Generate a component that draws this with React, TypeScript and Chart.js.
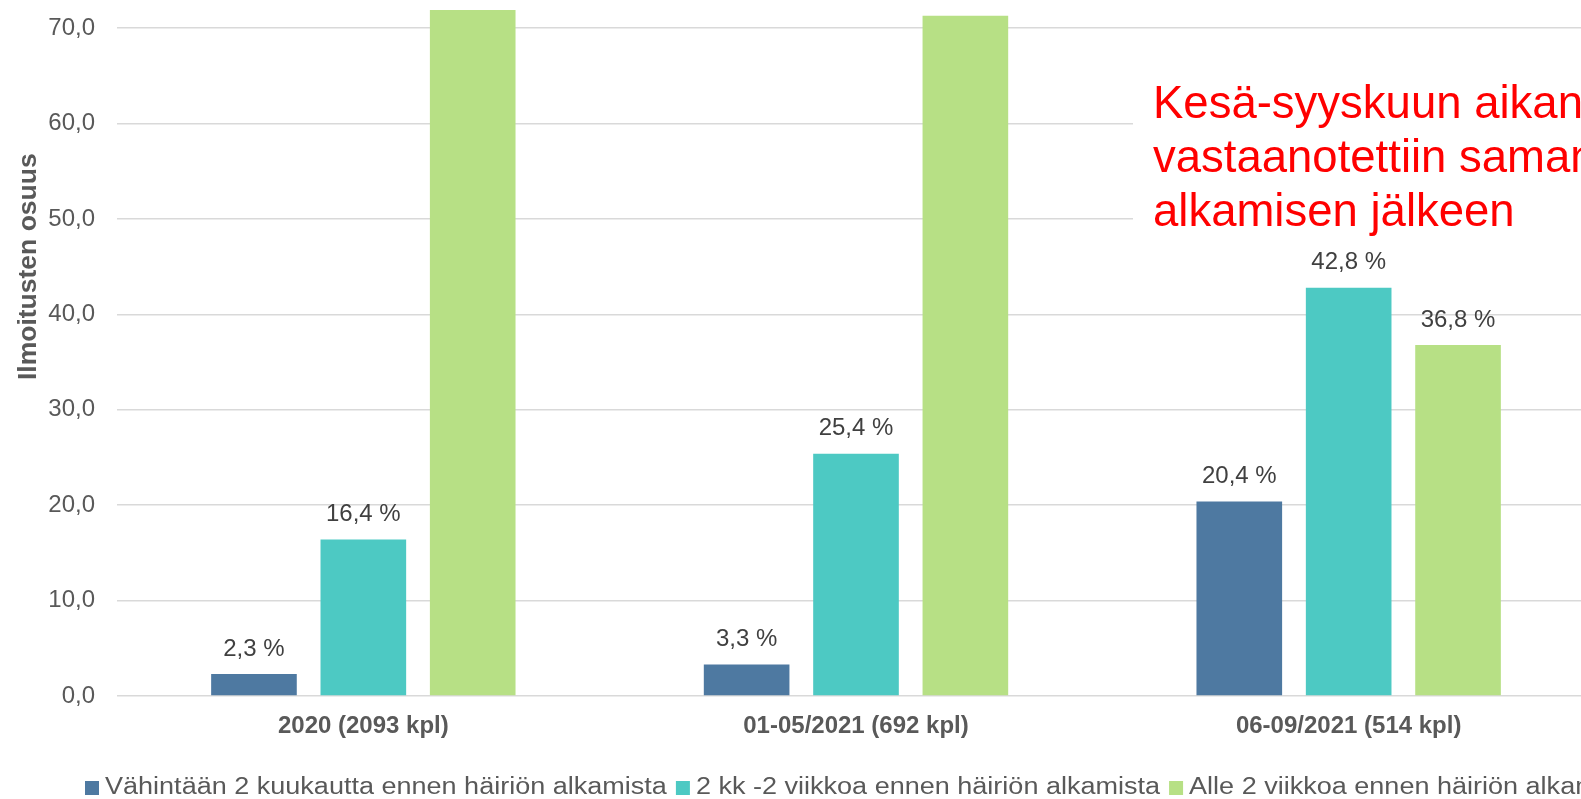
import React, { useEffect, useRef } from "react";
import { Chart, registerables } from "chart.js";

Chart.register(...registerables);

// ---- data ----
const categories = ["2020 (2093 kpl)", "01-05/2021 (692 kpl)", "06-09/2021 (514 kpl)"];
const seriesNames = [
  "Vähintään 2 kuukautta ennen häiriön alkamista",
  "2 kk -2 viikkoa ennen häiriön alkamista",
  "Alle 2 viikkoa ennen häiriön alkamista",
];
const atLeast2Months = [2.3, 3.3, 20.4];
const twoMonthsTo2Weeks = [16.4, 25.4, 42.8];
const under2Weeks = [81.3, 71.3, 36.8];
const seriesColors = ["#4E79A1", "#4DC9C3", "#B7E085"];
const yMax = 90;
const yStep = 10;
const yTitle = "Ilmoitusten osuus";
const noteLines = ["Kesä-syyskuun aikana", "vastaanotettiin samana", "alkamisen jälkeen"];

// ---- layout constants ----
const W = 1595; // the chart continues a little past the right edge of the window
const VIEW_H = 799;
const OFFSET = 199; // part of the chart above the visible window
const H = VIEW_H + OFFSET;
const FONT = "'Liberation Sans', Arial, sans-serif";

const fmt = (v: number) => v.toFixed(1).replace(".", ",");

export default function App() {
  const ref = useRef<HTMLCanvasElement>(null);

  useEffect(() => {
    const canvas = ref.current;
    if (!canvas) return;
    Chart.defaults.font.family = FONT;

    const decor = {
      id: "decor",
      beforeDatasetsDraw(chart: any) {
        const ctx = chart.ctx;
        ctx.save();
        ctx.fillStyle = "#FFFFFF";
        ctx.fillRect(1133, OFFSET + 62, W - 1133, 180);
        ctx.fillStyle = "#FF0000";
        ctx.font = `45.5px ${FONT}`;
        ctx.textAlign = "left";
        ctx.textBaseline = "alphabetic";
        noteLines.forEach((line, i) => {
          ctx.fillText(line, 1153, OFFSET + 118 + i * 54);
        });
        ctx.restore();
      },
      afterDatasetsDraw(chart: any) {
        const ctx = chart.ctx;
        ctx.save();
        ctx.fillStyle = "#404040";
        ctx.font = `24px ${FONT}`;
        ctx.textAlign = "center";
        ctx.textBaseline = "middle";
        chart.data.datasets.forEach((ds: any, di: number) => {
          const meta = chart.getDatasetMeta(di);
          meta.data.forEach((bar: any, i: number) => {
            ctx.fillText(fmt(ds.data[i]) + " %", bar.x, bar.y - 25);
          });
        });
        // white band at the very top of the visible window
        ctx.fillStyle = "#FFFFFF";
        ctx.fillRect(0, 0, W, OFFSET + 10);
        ctx.restore();
      },
      afterDraw(chart: any) {
        const ctx = chart.ctx;
        ctx.save();
        ctx.font = `23px ${FONT}`;
        ctx.textAlign = "left";
        ctx.textBaseline = "alphabetic";
        const sx = 1.175;
        let x = 85;
        const baseline = OFFSET + 794;
        seriesNames.forEach((name, i) => {
          ctx.fillStyle = seriesColors[i];
          ctx.fillRect(x, baseline - 13, 14, 14);
          ctx.fillStyle = "#595959";
          const tx = x + 20;
          ctx.save();
          ctx.translate(tx, baseline);
          ctx.scale(sx, 1);
          ctx.fillText(name, 0, 0);
          ctx.restore();
          x = tx + ctx.measureText(name).width * sx + 9;
        });
        ctx.restore();
      },
    };

    const chart = new Chart(canvas, {
      type: "bar",
      data: {
        labels: categories,
        datasets: [
          { label: seriesNames[0], data: atLeast2Months, backgroundColor: seriesColors[0] },
          { label: seriesNames[1], data: twoMonthsTo2Weeks, backgroundColor: seriesColors[1] },
          { label: seriesNames[2], data: under2Weeks, backgroundColor: seriesColors[2] },
        ],
      },
      options: {
        responsive: false,
        animation: false,
        devicePixelRatio: 1,
        layout: { padding: { top: 36, left: 0, right: 0, bottom: 53 } },
        datasets: { bar: { categoryPercentage: 0.666, barPercentage: 0.783 } },
        plugins: {
          legend: { display: false },
          tooltip: { enabled: false },
        },
        scales: {
          x: {
            grid: { display: false, drawTicks: false },
            border: { display: false },
            ticks: {
              color: "#595959",
              font: { size: 24, weight: "bold" },
              padding: 16,
              maxRotation: 0,
              autoSkip: false,
            },
            afterFit(scale: any) {
              scale.height = 50;
            },
          },
          y: {
            min: 0,
            max: yMax,
            grid: { color: "#D9D9D9", lineWidth: 1.5, drawTicks: false },
            border: { display: false },
            ticks: {
              stepSize: yStep,
              color: "#595959",
              font: { size: 24 },
              padding: 22,
              callback: (v: any) => fmt(Number(v)),
            },
            title: {
              display: true,
              text: yTitle,
              color: "#595959",
              font: { size: 26.5, weight: "bold" },
              padding: { top: 13, bottom: 0 },
            },
            afterFit(scale: any) {
              scale.width = 117;
            },
          },
        },
      },
      plugins: [decor],
    });
    return () => chart.destroy();
  }, []);

  return (
    <div style={{ position: "fixed", left: 0, top: -OFFSET, width: W, height: H, background: "#fff" }}>
      <canvas ref={ref} width={W} height={H} style={{ display: "block", width: W, height: H }} />
    </div>
  );
}
